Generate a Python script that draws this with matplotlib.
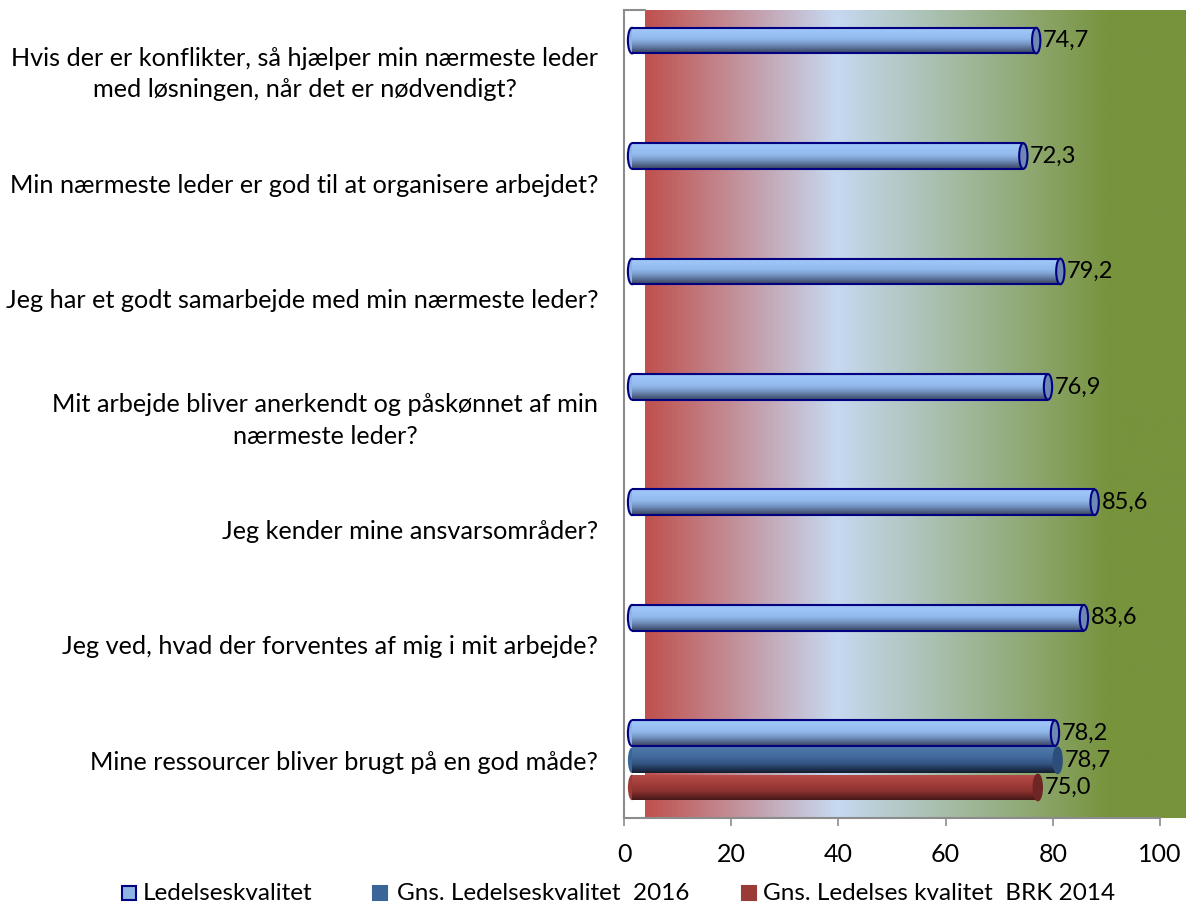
import numpy as np
import matplotlib
matplotlib.use("Agg")
import matplotlib.pyplot as plt
from matplotlib.patches import Ellipse, Rectangle
from matplotlib.colors import LinearSegmentedColormap

plt.rcParams['font.family'] = ['Lato', 'DejaVu Sans']

# ---------------- data ----------------
categories = [
    "Hvis der er konflikter, så hjælper min nærmeste leder\nmed løsningen, når det er nødvendigt?",
    "Min nærmeste leder er god til at organisere arbejdet?",
    "Jeg har et godt samarbejde med min nærmeste leder?",
    "Mit arbejde bliver anerkendt og påskønnet af min\nnærmeste leder?",
    "Jeg kender mine ansvarsområder?",
    "Jeg ved, hvad der forventes af mig i mit arbejde?",
    "Mine ressourcer bliver brugt på en god måde?",
]
ledelseskvalitet = [74.7, 72.3, 79.2, 76.9, 85.6, 83.6, 78.2]
gns_2016 = [None, None, None, None, None, None, 78.7]
gns_brk_2014 = [None, None, None, None, None, None, 75.0]
series_names = ["Ledelseskvalitet", "Gns. Ledelseskvalitet  2016", "Gns. Ledelses kvalitet  BRK 2014"]
x_ticks = [0, 20, 40, 60, 80, 100]

# ---------------- style ----------------
W, H = 1192, 911
fig = plt.figure(figsize=(W / 100, H / 100), dpi=100)
ax = fig.add_axes([624 / W, 1 - 818 / H, (1185 - 624) / W, (818 - 10) / H])
XMAX = 104.66
FS_LBL = 18.2
FS_TICK = 18
FS_VAL = 17
FS_LEG = 17.5

# background gradient (3D back wall)
wall_start = 3.9
bg_cmap = LinearSegmentedColormap.from_list(
    "bg", [(0.0, (192/255, 80/255, 77/255)),
           ((39.4 - wall_start) / (XMAX - wall_start), (198/255, 217/255, 241/255)),
           ((90.7 - wall_start) / (XMAX - wall_start), (119/255, 147/255, 60/255)),
           (1.0, (119/255, 147/255, 60/255))])
grad = np.linspace(0, 1, 512).reshape(1, -1)
ax.imshow(grad, cmap=bg_cmap, aspect='auto', extent=(wall_start, XMAX, 6.5, -0.5),
          zorder=0, interpolation='bilinear')

series = [ledelseskvalitet, gns_2016, gns_brk_2014]
offsets = [-0.235, 0.0, 0.235]
bar_h = 0.222
START = 1.5      # 3D depth shift of bar start
SHIFT = 2.2      # 3D depth shift of bar end
CAP_W = 1.55

grads = [
    [(0.0, (150, 190, 240)), (0.12, (158, 198, 248)), (0.45, (145, 185, 235)),
     (0.65, (118, 150, 196)), (0.85, (82, 102, 138)), (1.0, (55, 66, 92))],
    [(0.0, (80, 122, 172)), (0.4, (64, 104, 154)), (0.65, (50, 84, 128)),
     (0.85, (30, 50, 80)), (1.0, (20, 30, 46))],
    [(0.0, (182, 76, 72)), (0.4, (160, 60, 57)), (0.65, (140, 50, 48)),
     (0.85, (100, 35, 33)), (1.0, (68, 24, 24))],
]
cap_fill = ['#6E88B4', '#2C4E7A', '#6E2624']
left_fill = ['#8DB4E2', '#3A6598', '#9B3B38']
edge_col = ['#000080', 'none', 'none']
legend_face = ['#8DB4E2', '#3A6598', '#9B3B38']

y_idx = np.arange(len(categories))
for s, vals in enumerate(series):
    cm = LinearSegmentedColormap.from_list(
        f"c{s}", [(p, tuple(c / 255 for c in col)) for p, col in grads[s]])
    for i, v in enumerate(vals):
        if v is None:
            continue
        yc = y_idx[i] + offsets[s]
        end = v + SHIFT
        # left cap
        ax.add_patch(Ellipse((START, yc), CAP_W, bar_h, facecolor=left_fill[s],
                             edgecolor=edge_col[s], lw=1.5, zorder=2))
        bars = ax.barh([yc], [end - START], left=START, height=bar_h,
                       color=left_fill[s], edgecolor='none', zorder=3)
        rect = bars.patches[0]
        im = ax.imshow(np.linspace(0, 1, 256).reshape(-1, 1), cmap=cm, aspect='auto',
                       extent=(START, end, yc + bar_h / 2, yc - bar_h / 2),
                       zorder=3.5, interpolation='bilinear')
        im.set_clip_path(rect)
        if edge_col[s] != 'none':
            ax.hlines([yc - bar_h / 2, yc + bar_h / 2], START, end,
                      colors=edge_col[s], lw=1.5, zorder=4)
        # right cap
        ax.add_patch(Ellipse((end, yc), CAP_W, bar_h, facecolor=cap_fill[s],
                             edgecolor=edge_col[s] if edge_col[s] != 'none' else cap_fill[s],
                             lw=1.5, zorder=5))
        ax.text(end + CAP_W / 2 + 0.5, yc, f"{v:.1f}".replace('.', ','),
                va='center', ha='left', fontsize=FS_VAL, color='black', zorder=6)

ax.set_xlim(0, XMAX)
ax.set_ylim(6.5, -0.5)
ax.set_facecolor('white')
ax.set_xticks(x_ticks)
ax.set_xticklabels([str(t) for t in x_ticks], fontsize=FS_TICK)
ax.set_yticks(y_idx)
ax.set_yticklabels(categories, fontsize=FS_LBL, linespacing=1.45)
for lbl in ax.get_yticklabels():
    lbl.set_multialignment('center')
ax.tick_params(axis='y', length=0, pad=18.5)
ax.tick_params(axis='x', length=6, width=1.2, color='#8C8C8C', pad=12, direction='out')
for sp in ['top', 'right']:
    ax.spines[sp].set_visible(False)
ax.spines['left'].set_color('#8C8C8C')
ax.spines['left'].set_linewidth(1.5)
ax.spines['bottom'].set_color('#8C8C8C')
ax.spines['bottom'].set_linewidth(1.5)
ax.spines['bottom'].set_bounds(0, 100)
# side-wall top edge
ax.plot([0, wall_start], [-0.5, -0.5], color='#8C8C8C', lw=1.5, clip_on=False, zorder=1)

# legend (manual, bottom)
leg_y = 1 - 893 / H
leg_items = [(122, 143), (373, 397), (742, 763)]
for s, (mx, tx) in enumerate(leg_items):
    fig.patches.append(Rectangle((mx / W, leg_y - 7 / H), 14 / W, 14 / H,
                                 transform=fig.transFigure, facecolor=legend_face[s],
                                 edgecolor=edge_col[s] if edge_col[s] != 'none' else legend_face[s],
                                 lw=1.5))
    fig.text(tx / W, leg_y, series_names[s], ha='left', va='center', fontsize=FS_LEG)

fig.savefig("out.png", dpi=100)
